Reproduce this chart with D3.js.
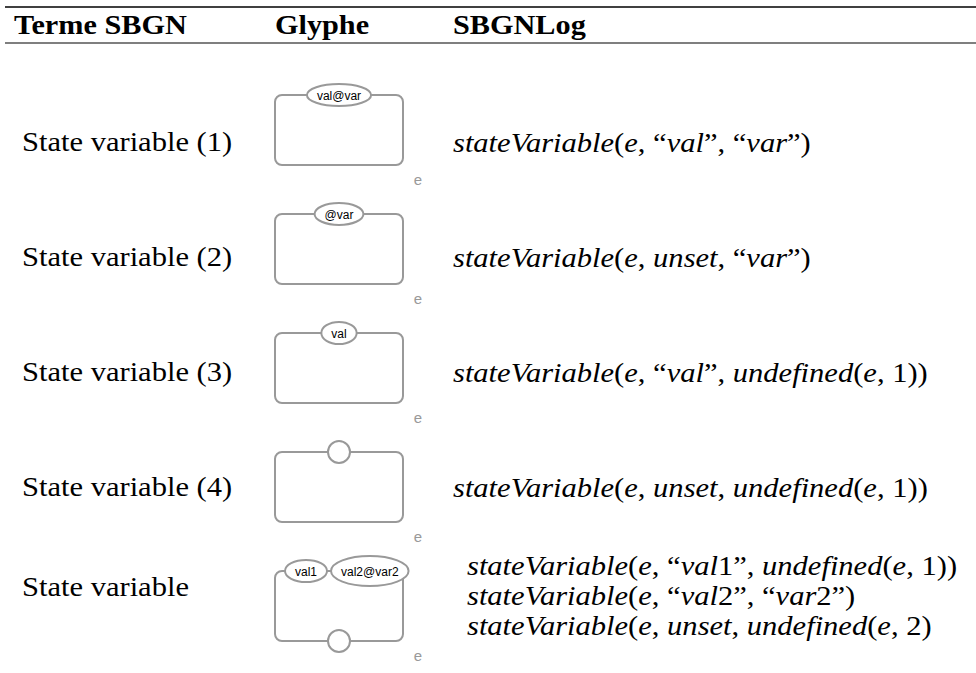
<!DOCTYPE html>
<html><head><meta charset="utf-8">
<script src="https://cdn.jsdelivr.net/npm/d3@7"></script>
<style>body{margin:0;background:#fff}</style>
</head><body><svg id="c" width="976" height="673"></svg>
<script>
const headers = ["Terme SBGN", "Glyphe", "SBGNLog"];
const terms = ["State variable (1)", "State variable (2)", "State variable (3)", "State variable (4)", "State variable"];
const topUnits = [["val@var"], ["@var"], ["val"], [""], ["val1", "val2@var2"]];
const bottomUnits = [[], [], [], [], [""]];
const entityLabels = ["e", "e", "e", "e", "e"];
const formulas = [
  ["stateVariable(e, “val”, “var”)"],
  ["stateVariable(e, unset, “var”)"],
  ["stateVariable(e, “val”, undefined(e, 1))"],
  ["stateVariable(e, unset, undefined(e, 1))"],
  ["stateVariable(e, “val1”, undefined(e, 1))", "stateVariable(e, “val2”, “var2”)", "stateVariable(e, unset, undefined(e, 2)"]
];

const svg = d3.select("#c");
const serif = "'Liberation Serif', 'Times New Roman', serif";
const sans = "'Liberation Sans', Arial, sans-serif";
const grey = "#999";

function stretch(t, k) {
  const w = t.node().getComputedTextLength();
  t.attr("textLength", w * k).attr("lengthAdjust", "spacingAndGlyphs");
  return t;
}

// rules
svg.append("line").attr("x1", 5).attr("x2", 976).attr("y1", 7).attr("y2", 7)
  .attr("stroke", "#000").attr("stroke-width", 1.6);
svg.append("line").attr("x1", 5).attr("x2", 976).attr("y1", 43).attr("y2", 43)
  .attr("stroke", "#000").attr("stroke-width", 1.1);

const colX = [14, 275, 453];
headers.forEach((h, i) => {
  const t = svg.append("text").attr("x", colX[i]).attr("y", 34).attr("font-family", serif)
    .attr("font-weight", "bold").attr("font-size", 27).text(h);
  stretch(t, 1.12);
});

const boxTop = d3.scaleLinear().domain([0, 4]).range([95, 571]);
const labelBase = d3.scaleLinear().domain([0, 3]).range([151, 496]);
const boxL = 275, boxW = 128, boxH = 70;

terms.forEach((term, i) => {
  const y = i < 4 ? labelBase(i) : 596;
  const t = svg.append("text").attr("x", 22).attr("y", y).attr("font-family", serif)
    .attr("font-size", 27.5).text(term);
  stretch(t, 1.11);
});

function mathText(g, str, x, y) {
  const t = g.append("text").attr("x", x).attr("y", y).attr("font-family", serif).attr("font-size", 27.5);
  const parts = str.match(/[A-Za-z]+|[^A-Za-z]+/g);
  parts.forEach(p => {
    t.append("tspan").attr("font-style", /[A-Za-z]/.test(p) ? "italic" : "normal").text(p);
  });
  stretch(t, 1.11);
  return t;
}

formulas.forEach((lines, i) => {
  if (i < 4) mathText(svg, lines[0], 453, labelBase(i) + 1);
  else lines.forEach((l, j) => mathText(svg, l, 467, 575 + j * 30));
});

topUnits.forEach((units, i) => {
  const g = svg.append("g");
  const top = boxTop(i);
  g.append("rect").attr("x", boxL).attr("y", top).attr("width", boxW).attr("height", boxH)
    .attr("rx", 7).attr("fill", "none").attr("stroke", grey).attr("stroke-width", 2);
  const meas = units.map(u => {
    if (!u) return {label: u, rx: 11, ry: 11};
    const tmp = g.append("text").attr("font-family", sans).attr("font-size", 12).text(u);
    const w = tmp.node().getComputedTextLength();
    tmp.remove();
    return {label: u, rx: w / 2 + 10, ry: w > 50 ? 15 : 11};
  });
  if (meas.length === 1) { meas[0].cx = boxL + boxW / 2; }
  else {
    let cx = boxL + 10;
    meas.forEach(m => { m.cx = cx + m.rx; cx += 2 * m.rx + 4; });
  }
  meas.forEach(m => {
    g.append("ellipse").attr("cx", m.cx).attr("cy", top).attr("rx", m.rx).attr("ry", m.ry)
      .attr("fill", "#fff").attr("stroke", grey).attr("stroke-width", 2);
    if (m.label) g.append("text").attr("x", m.cx).attr("y", top + 4.5).attr("text-anchor", "middle")
      .attr("font-family", sans).attr("font-size", 12).text(m.label);
  });
  bottomUnits[i].forEach(() => {
    g.append("circle").attr("cx", boxL + boxW / 2).attr("cy", top + boxH).attr("r", 11)
      .attr("fill", "#fff").attr("stroke", grey).attr("stroke-width", 2);
  });
  g.append("text").attr("x", boxL + boxW + 15).attr("y", top + boxH + 20).attr("text-anchor", "middle")
    .attr("font-family", sans).attr("font-size", 15).attr("fill", grey).text(entityLabels[i]);
});
</script></body></html>
